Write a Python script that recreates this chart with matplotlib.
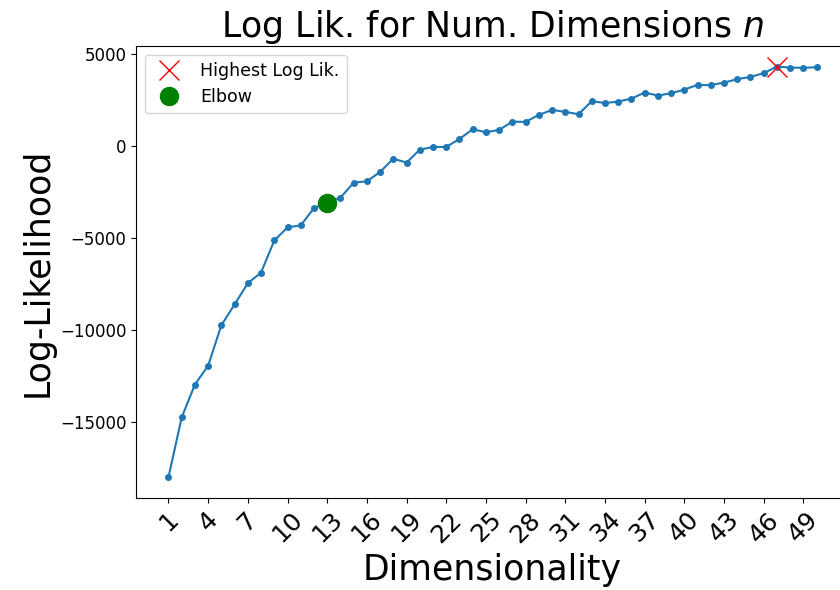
import matplotlib
matplotlib.use("Agg")
import matplotlib.pyplot as plt
import numpy as np

dims = np.arange(1, 51)
loglik = [-17980, -14730, -12950, -11920, -9730, -8600, -7450, -6870, -5130, -4420,
          -4310, -3370, -3080, -2810, -1990, -1920, -1410, -690, -905, -200,
          -55, -55, 380, 905, 745, 870, 1320, 1305, 1685, 1955,
          1850, 1720, 2430, 2330, 2410, 2570, 2900, 2735, 2860, 3060,
          3315, 3300, 3440, 3625, 3750, 3950, 4310, 4255, 4240, 4275]
elbow_dim = 13

loglik = np.array(loglik)
best = np.argmax(loglik)

fig = plt.figure(figsize=(8.4, 5.9), dpi=100)
ax = fig.add_subplot(111)
ax.plot(dims, loglik, marker="o", markersize=4)
ax.plot(dims[best], loglik[best], "rx", markersize=15, label="Highest Log Lik.")
ax.plot(elbow_dim, loglik[elbow_dim - 1], "go", markersize=13, label="Elbow")
ax.set_xticks(dims[::3])
ax.tick_params(axis="x", labelsize=18, labelrotation=45)
ax.tick_params(axis="y", labelsize=12)
ax.set_title("Log Lik. for Num. Dimensions $n$", fontsize=25)
ax.set_xlabel("Dimensionality", fontsize=25)
ax.set_ylabel("Log-Likelihood", fontsize=25)
ax.legend(loc="upper left", fontsize=12.5)
# right spine sits just past the canvas, like the cropped original
fig.subplots_adjust(left=0.162, right=1.0107, top=0.922, bottom=0.1564)
fig.savefig("out.png")
